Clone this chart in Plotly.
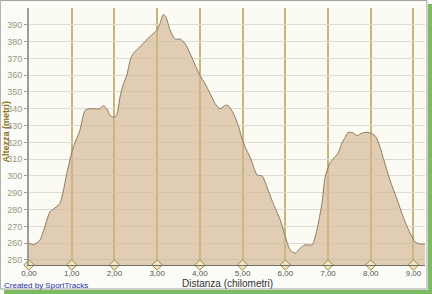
import plotly.graph_objects as go

distance_km = [0, 0.1, 0.26, 0.49, 0.61, 0.73, 0.89, 1.0, 1.08, 1.19, 1.31, 1.4, 1.55, 1.66, 1.74, 1.82, 1.9, 1.97,
               2.05, 2.13, 2.2, 2.29, 2.37, 2.44, 2.6, 2.83, 3.0, 3.07, 3.14, 3.2, 3.3, 3.42, 3.54, 3.65, 3.77, 3.89,
               4.0, 4.12, 4.24, 4.36, 4.47, 4.59, 4.66, 4.78, 4.9, 5.0, 5.1, 5.18, 5.34, 5.46, 5.57, 5.71, 5.88,
               6.0, 6.11, 6.23, 6.35, 6.46, 6.63, 6.74, 6.86, 6.93, 7.05, 7.24, 7.33, 7.4, 7.47, 7.59, 7.68, 7.8, 7.94,
               8.1, 8.22, 8.29, 8.45, 8.62, 8.76, 8.92, 9.04, 9.16, 9.27]
altitude_m = [260, 259, 262, 278.6, 281, 284, 302, 314, 320, 327, 339, 340, 340, 340, 342, 340, 336, 335,
              336, 347, 354, 360, 369, 373, 377, 383, 387, 391, 396, 395, 387, 381.5, 381.5, 379, 373, 366,
              360, 355, 349, 343, 340, 342, 342, 337.5, 330, 321, 315, 311, 300.6, 300, 293.5, 284, 274,
              264, 256, 254, 257, 259, 259, 268, 284, 299, 308, 313.7, 320, 323, 326, 325.6, 324, 325.6, 326,
              324, 317, 311, 297.6, 285.7, 275.6, 266, 260.7, 259.5, 259.5]

x_tick_vals = [0, 1, 2, 3, 4, 5, 6, 7, 8, 9]
x_tick_text = ["0,00", "1,00", "2,00", "3,00", "4,00", "5,00", "6,00", "7,00", "8,00", "9,00"]
y_tick_vals = [250, 260, 270, 280, 290, 300, 310, 320, 330, 340, 350, 360, 370, 380, 390]

FONT = "Liberation Sans Narrow, Liberation Sans, Arial"

fig = go.Figure()
fig.add_trace(go.Scatter(
    x=distance_km, y=altitude_m, mode="lines", line=dict(color="#8C7B5E", width=1, shape="spline", smoothing=0.6),
    fill="tozeroy", fillcolor="rgba(209,178,138,0.62)", hoverinfo="skip", showlegend=False))
fig.add_trace(go.Scatter(
    x=x_tick_vals, y=[247] * len(x_tick_vals), mode="markers", cliponaxis=False,
    marker=dict(symbol="diamond", size=8, color="#EFE5BE", line=dict(color="#A08C40", width=1)),
    hoverinfo="skip", showlegend=False))

fig.update_layout(
    width=432, height=294,
    margin=dict(l=29, r=7, t=8, b=29),
    paper_bgcolor="#FBFBF8", plot_bgcolor="#FBFAF3",
    xaxis=dict(range=[0, 9.27], tickvals=x_tick_vals, ticktext=x_tick_text, showgrid=True,
               gridcolor="#C9B57C", gridwidth=2, zeroline=False, showline=True, linecolor="#6E6E6E",
               linewidth=1, ticks="", ticklabelstandoff=0, tickfont=dict(family=FONT, size=8, color="#555555")),
    yaxis=dict(range=[247, 400], tickvals=y_tick_vals, showgrid=True, gridcolor="#DCDCD6", gridwidth=1,
               zeroline=False, showline=True, linecolor="#9C9C9C", linewidth=2, ticks="outside",
               ticklen=3, tickcolor="#9C9C9C", tickfont=dict(family=FONT, size=9, color="#9A9A80")),
    font=dict(family=FONT),
    annotations=[
        dict(text="<b>Altezza (metri)</b>", x=-0.058, y=0.52, xref="paper", yref="paper", textangle=-90,
             xanchor="center", yanchor="middle",
             showarrow=False, font=dict(family=FONT, size=9, color="#8A7420")),
        dict(text="Distanza (chilometri)", x=0.5, y=-0.071, xref="paper", yref="paper",
             xanchor="center", yanchor="middle",
             showarrow=False, font=dict(family=FONT, size=10, color="#333333")),
        dict(text="Created by SportTracks", x=-0.068, y=-0.078, xref="paper", yref="paper", xanchor="left",
             yanchor="middle",
             showarrow=False, font=dict(family=FONT, size=8, color="#2830A8")),
    ],
    shapes=[
        dict(type="rect", xref="paper", yref="paper", x0=-0.0725, x1=1.005, y0=-0.0934, y1=1.029,
             line=dict(color="#A0A0A0", width=1), fillcolor="rgba(0,0,0,0)", layer="below"),
        dict(type="rect", xref="paper", yref="paper", x0=1.0076, x1=1.02, y0=-0.115, y1=1.016,
             line=dict(width=0), fillcolor="#7DBB63", layer="below"),
        dict(type="rect", xref="paper", yref="paper", x0=-0.063, x1=1.02, y0=-0.115, y1=-0.097,
             line=dict(width=0), fillcolor="#7DBB63", layer="below"),
    ],
)

fig.write_html("out.html")
